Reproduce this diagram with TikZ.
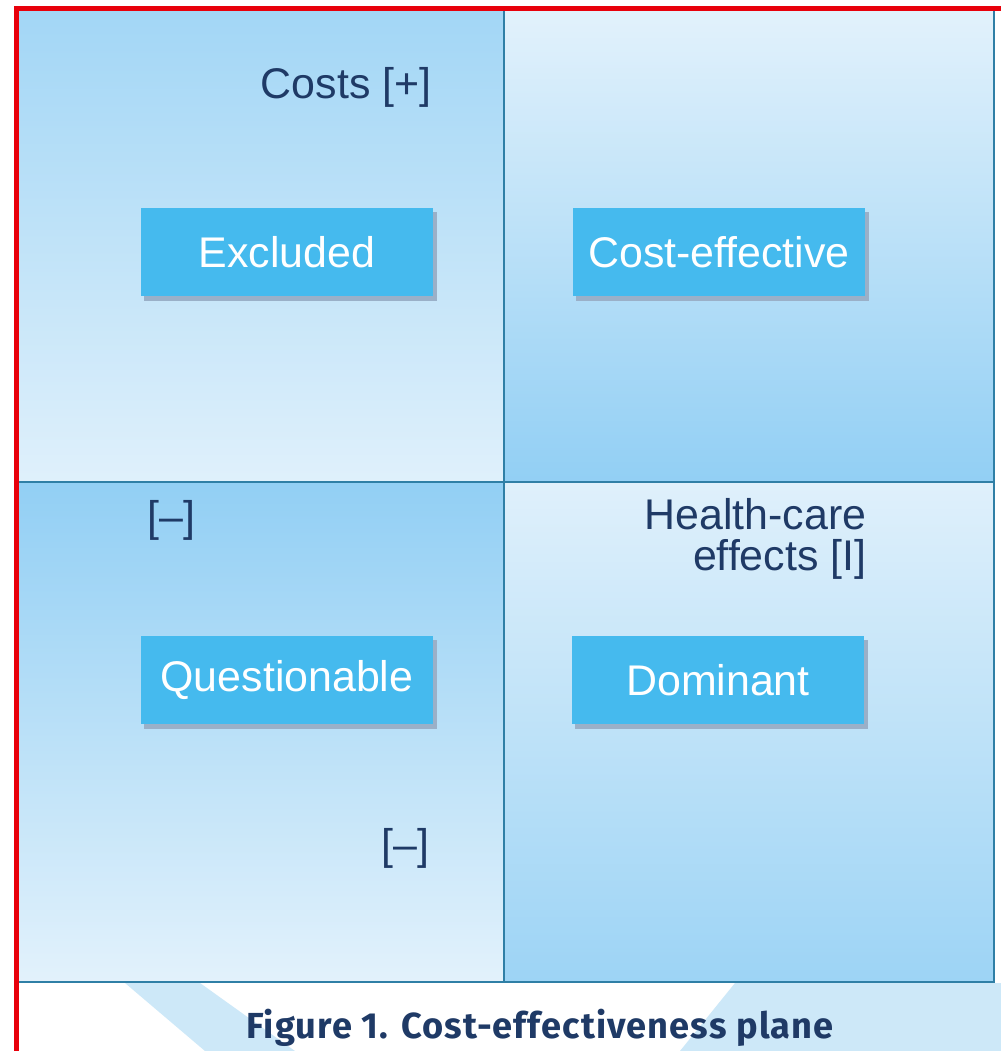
\documentclass[tikz,border=0pt]{standalone}
\usepackage{fontspec}
\setmainfont{Liberation Sans}
\newfontfamily\capfont[LetterSpace=3]{Fira Sans}
\usepackage{tikz}
\usetikzlibrary{shadows}

\definecolor{framered}{HTML}{E8000B}
\definecolor{gridline}{HTML}{2F7FA6}
\definecolor{boxblue}{HTML}{45BAEE}
\definecolor{boxshadow}{HTML}{9AB0C8}
\definecolor{navy}{HTML}{1F3A66}
\definecolor{skydark}{HTML}{92CFF4}
\definecolor{skylight}{HTML}{DFF0FB}
\definecolor{capblue}{HTML}{CDE8F8}

\begin{document}
\begin{tikzpicture}[x=0.01cm,y=-0.01cm,
                    quad line/.style={draw=gridline,line width=0.45pt},
                    state box/.style={rectangle,fill=boxblue,text=white,
                      minimum width=2.92cm,minimum height=0.88cm,inner sep=0pt,
                      font=\fontsize{12.2}{14}\selectfont,
                      drop shadow={shadow xshift=0.035cm,shadow yshift=-0.045cm,
                        fill=boxshadow,opacity=1}},
                    axis label/.style={text=navy,inner sep=0pt,
                      font=\fontsize{12.2}{11.4}\selectfont}]

  \useasboundingbox (0,0) rectangle (1001,1051);
  \fill[white] (0,0) rectangle (1001,1051);

  % quadrants
  \shade[top color=skydark!85,bottom color=skylight] (18,10) rectangle (504,482);
  \shade[top color=skylight!90,bottom color=skydark] (504,10) rectangle (994,482);
  \shade[top color=skydark,bottom color=skylight!90] (18,482) rectangle (504,982);
  \shade[top color=skylight,bottom color=skydark!90] (504,482) rectangle (994,982);

  % caption strip
  \fill[capblue] (125,983) -- (200,983) -- (295,1051) -- (205,1051) -- cycle;
  \fill[capblue] (735,983) -- (1001,983) -- (1001,1051) -- (680,1051) -- cycle;

  \draw[quad line] (18,10) rectangle (994,982);
  \draw[quad line] (504,10) -- (504,982);
  \draw[quad line] (18,482) -- (994,482);

  \node[state box] (excl) at (287,252) {Excluded};
  \node[state box] (costeff) at (719,252) {Cost-effective};
  \node[state box] (quest) at (287,680) {Questionable};
  \node[state box] (dom) at (718,680) {Dominant};

  \node[axis label,anchor=base east] (costs) at (432,98) {Costs [+]};
  \node[axis label,anchor=base west] (minusup) at (147,531) {[–]};
  \node[axis label,anchor=base east] (minusdown) at (430,859) {[–]};
  \node[axis label,anchor=base east,align=right] (effects) at (867,570)
    {Health-care\\effects [I]};

  \node[text=navy,inner sep=0pt,anchor=base,
        font=\capfont\bfseries\fontsize{10.3}{12}\selectfont] (caption) at (540,1038)
    {Figure 1. Cost-effectiveness plane};

  % red edge
  \draw[framered,line width=1.5pt] (16.5,1051) -- (16.5,8.5) -- (1001,8.5);
\end{tikzpicture}
\end{document}
